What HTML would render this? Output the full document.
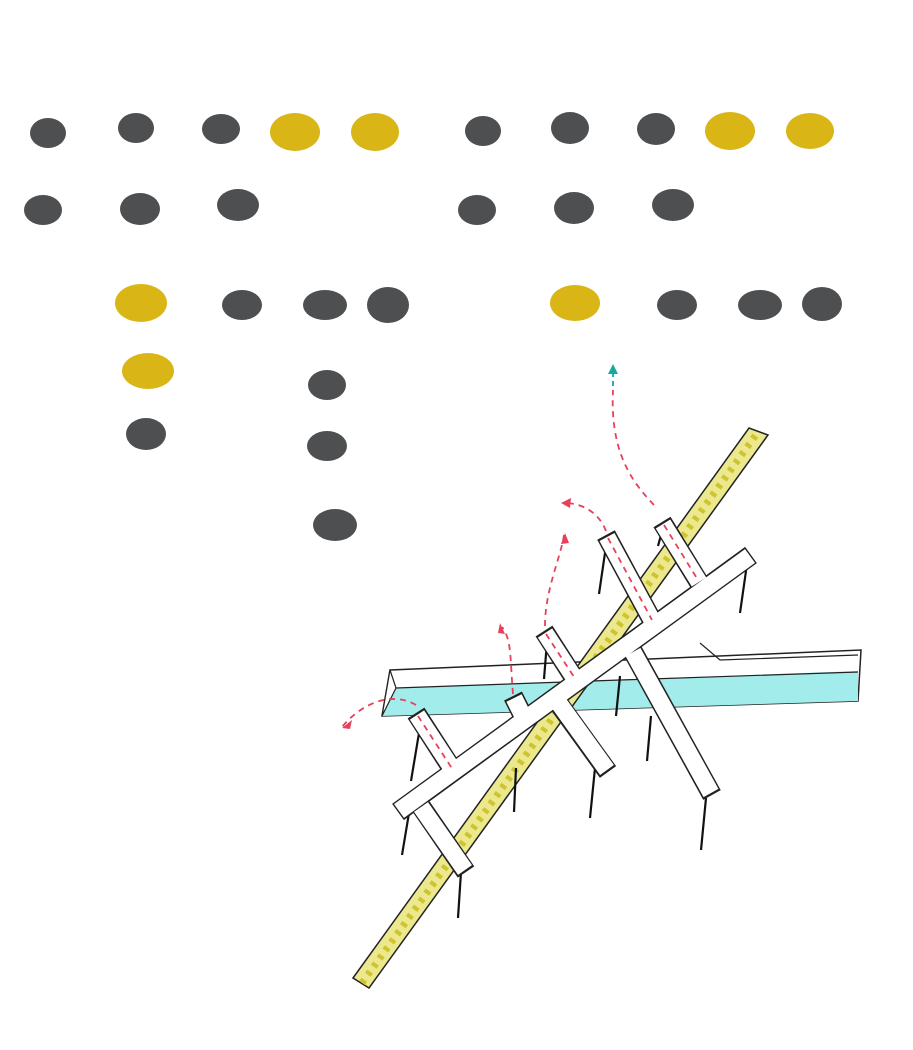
<!DOCTYPE html>
<html><head><meta charset="utf-8"><style>html,body{margin:0;padding:0;background:#fff}svg{display:block}</style></head>
<body>
<svg width="913" height="1050" viewBox="0 0 913 1050" xmlns="http://www.w3.org/2000/svg">
<g fill="#4e4f51">
<ellipse cx="48" cy="133" rx="18" ry="15"/>
<ellipse cx="136" cy="128" rx="18" ry="15"/>
<ellipse cx="221" cy="129" rx="19" ry="15"/>
<ellipse cx="43" cy="210" rx="19" ry="15"/>
<ellipse cx="140" cy="209" rx="20" ry="16"/>
<ellipse cx="238" cy="205" rx="21" ry="16"/>
<ellipse cx="242" cy="305" rx="20" ry="15"/>
<ellipse cx="325" cy="305" rx="22" ry="15"/>
<ellipse cx="388" cy="305" rx="21" ry="18"/>
<ellipse cx="483" cy="131" rx="18" ry="15"/>
<ellipse cx="570" cy="128" rx="19" ry="16"/>
<ellipse cx="656" cy="129" rx="19" ry="16"/>
<ellipse cx="477" cy="210" rx="19" ry="15"/>
<ellipse cx="574" cy="208" rx="20" ry="16"/>
<ellipse cx="673" cy="205" rx="21" ry="16"/>
<ellipse cx="677" cy="305" rx="20" ry="15"/>
<ellipse cx="760" cy="305" rx="22" ry="15"/>
<ellipse cx="822" cy="304" rx="20" ry="17"/>
<ellipse cx="327" cy="385" rx="19" ry="15"/>
<ellipse cx="146" cy="434" rx="20" ry="16"/>
<ellipse cx="327" cy="446" rx="20" ry="15"/>
<ellipse cx="335" cy="525" rx="22" ry="16"/>
</g>
<g fill="#d9b615">
<ellipse cx="295" cy="132" rx="25" ry="19"/>
<ellipse cx="375" cy="132" rx="24" ry="19"/>
<ellipse cx="730" cy="131" rx="25" ry="19"/>
<ellipse cx="810" cy="131" rx="24" ry="18"/>
<ellipse cx="141" cy="303" rx="26" ry="19"/>
<ellipse cx="575" cy="303" rx="25" ry="18"/>
<ellipse cx="148" cy="371" rx="26" ry="18"/>
</g>
<!-- channel -->
<polygon points="390,670 861,650 858,701 382,716" fill="#fff" stroke="#222" stroke-width="1.5"/>
<polygon points="396,688 858,671 858,701 382,716" fill="#a3ecec"/>
<polygon points="390,670 396,688 382,716" fill="#fff" stroke="#222" stroke-width="1.2"/>
<polyline points="396,688 620,680 858,672" fill="none" stroke="#222" stroke-width="1.2"/>
<polyline points="700,643 720,660 858,655" fill="none" stroke="#222" stroke-width="1.2"/>
<!-- yellow beam -->
<polygon points="353,978 749,428 768,435 369,988" fill="#ece88e" stroke="#222" stroke-width="1.5"/>
<line x1="362" y1="983" x2="758" y2="432" stroke="#cfc430" stroke-width="7" stroke-dasharray="4 6"/>
<!-- legs -->
<g stroke="#111" stroke-width="2.2">
<line x1="606" y1="546" x2="599" y2="594"/><line x1="747" y1="564" x2="740" y2="613"/>
<line x1="420" y1="727" x2="411" y2="781"/><line x1="516" y1="768" x2="514" y2="812"/>
<line x1="595" y1="768" x2="590" y2="818"/><line x1="651" y1="716" x2="647" y2="761"/>
<line x1="706" y1="798" x2="701" y2="850"/><line x1="409" y1="813" x2="402" y2="855"/>
<line x1="461" y1="872" x2="458" y2="918"/><line x1="620" y1="676" x2="616" y2="716"/>
<line x1="547" y1="642" x2="544" y2="679"/><line x1="661" y1="535" x2="658" y2="546"/>
</g>
<!-- white structure -->
<g stroke="#222" stroke-width="20" stroke-linecap="butt">
<line x1="398" y1="812" x2="751" y2="555"/>
<line x1="632" y1="650" x2="712" y2="795"/>
<line x1="556" y1="700" x2="608" y2="772"/>
<line x1="420" y1="805" x2="466" y2="872"/>
<line x1="416" y1="713" x2="456" y2="775"/>
<line x1="513" y1="696" x2="523" y2="716"/>
<line x1="544" y1="631" x2="578" y2="684"/>
<line x1="606" y1="535" x2="654" y2="624"/>
<line x1="662" y1="522" x2="700" y2="584"/>
</g>
<g stroke="#fff" stroke-width="17" stroke-linecap="butt">
<line x1="399" y1="811" x2="750" y2="556"/>
<line x1="633" y1="652" x2="711" y2="793"/>
<line x1="558" y1="702" x2="607" y2="770"/>
<line x1="421" y1="807" x2="465" y2="870"/>
<line x1="417" y1="715" x2="455" y2="773"/>
<line x1="514" y1="698" x2="522" y2="714"/>
<line x1="545" y1="633" x2="577" y2="682"/>
<line x1="607" y1="537" x2="653" y2="622"/>
<line x1="663" y1="524" x2="699" y2="582"/>
</g>
<g stroke="#e8405a" stroke-width="1.8" stroke-dasharray="6 5" fill="none">
<line x1="418" y1="716" x2="453" y2="770"/>
<line x1="546" y1="634" x2="576" y2="680"/>
<line x1="608" y1="538" x2="652" y2="620"/>
<line x1="664" y1="525" x2="698" y2="580"/>
<path d="M416,705 C390,690 360,705 342,727"/>
<path d="M513,694 C510,660 512,640 502,627"/>
<path d="M545,626 C545,590 560,560 564,535"/>
<path d="M606,531 C600,515 585,503 564,503"/>
<path d="M654,505 C630,480 610,450 613,390"/>
</g>
<g fill="#e8405a">
<polygon points="342,728 352,720 350,729"/>
<polygon points="500,623 505,634 498,633"/>
<polygon points="565,533 561,544 569,543"/>
<polygon points="561,503 571,498 570,508"/>
</g>
<line x1="613" y1="372" x2="613" y2="388" stroke="#1aa89c" stroke-width="1.8" stroke-dasharray="5 4"/>
<polygon points="613,364 608,374 618,374" fill="#1aa89c"/>
</svg>
</body></html>
